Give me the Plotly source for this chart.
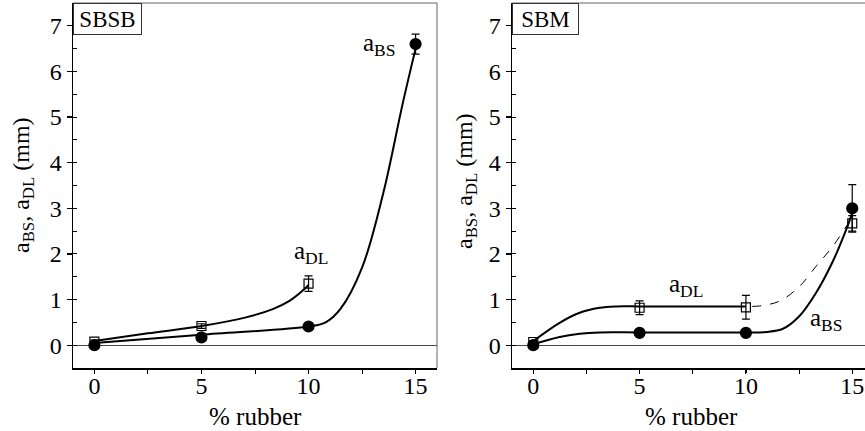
import plotly.graph_objects as go

FONT = "Liberation Serif, Times New Roman, Times, DejaVu Serif, serif"

# ---- measured points (x = % rubber, y = mm) ----
rubber = [0, 5, 10, 15]

# SBSB panel
sbsb_bs_y = [0.0, 0.17, 0.41, 6.6]
sbsb_bs_err = [0.0, 0.0, 0.0, 0.22]
sbsb_dl_x = [0, 5, 10]
sbsb_dl_y = [0.08, 0.42, 1.35]
sbsb_dl_err = [0.03, 0.05, 0.17]

# SBM panel
sbm_bs_y = [0.0, 0.27, 0.27, 3.0]
sbm_bs_err = [0.0, 0.0, 0.0, 0.52]
sbm_dl_y = [0.07, 0.82, 0.83, 2.67]
sbm_dl_err = [0.03, 0.15, 0.26, 0.17]

# ---- fitted curves ----
sbsb_bs_fit_x = [0, 5, 10, 10.8, 11.5, 12.5, 13.5, 14.4, 15]
sbsb_bs_fit_y = [0.05, 0.23, 0.41, 0.5, 0.8, 1.7, 3.35, 5.3, 6.5]
sbsb_dl_fit_x = [0, 2.5, 5, 7.08, 8.33, 9.11, 9.81, 10]
sbsb_dl_fit_y = [0.09, 0.26, 0.42, 0.61, 0.79, 0.97, 1.23, 1.32]

sbm_dl_fit_x = [0, 1.24, 2.18, 3.12, 3.9, 5, 7.5, 10]
sbm_dl_fit_y = [0.09, 0.49, 0.71, 0.82, 0.85, 0.85, 0.85, 0.85]
sbm_dl_ext_x = [10.3, 10.64, 11.58, 12.52, 13.3, 14.09, 14.79, 15]
sbm_dl_ext_y = [0.85, 0.86, 0.965, 1.29, 1.73, 2.17, 2.65, 2.78]
sbm_bs_fit_x = [0, 1.24, 2.18, 3.12, 5, 7.5, 10, 10.95, 11.74, 12.52, 13.3, 14.09, 14.72, 15]
sbm_bs_fit_y = [0.02, 0.18, 0.25, 0.28, 0.28, 0.28, 0.28, 0.29, 0.36, 0.64, 1.15, 1.84, 2.54, 2.9]

x_ticks = [0, 5, 10, 15]
y_ticks = [0, 1, 2, 3, 4, 5, 6, 7]

W, H = 865, 431


def px(x):
    return x / W


def py(y):
    return 1 - y / H


fig = go.Figure()


def curve(x, y, xa, ya, dash="solid", width=2):
    fig.add_trace(go.Scatter(x=x, y=y, xaxis=xa, yaxis=ya, mode="lines",
                             line=dict(color="black", width=width, dash=dash,
                                       shape="spline", smoothing=1.0),
                             hoverinfo="skip", showlegend=False))


def points(x, y, err, xa, ya, symbol, size):
    fig.add_trace(go.Scatter(x=x, y=y, xaxis=xa, yaxis=ya, mode="markers",
                             marker=dict(symbol=symbol, size=size, color="black",
                                         line=dict(color="black", width=1.2)),
                             error_y=dict(type="data", array=err, visible=True,
                                          color="black", thickness=1.2, width=4),
                             cliponaxis=False, showlegend=False))


# SBSB
curve(sbsb_bs_fit_x, sbsb_bs_fit_y, "x", "y")
curve(sbsb_dl_fit_x, sbsb_dl_fit_y, "x", "y")
points(sbsb_dl_x, sbsb_dl_y, sbsb_dl_err, "x", "y", "square-open", 9)
points(rubber, sbsb_bs_y, sbsb_bs_err, "x", "y", "circle", 11)

# SBM
curve(sbm_bs_fit_x, sbm_bs_fit_y, "x2", "y2")
curve(sbm_dl_fit_x, sbm_dl_fit_y, "x2", "y2")
curve(sbm_dl_ext_x, sbm_dl_ext_y, "x2", "y2", dash="dash", width=1)
points(rubber, sbm_dl_y, sbm_dl_err, "x2", "y2", "square-open", 9)
points(rubber, sbm_bs_y, sbm_bs_err, "x2", "y2", "circle", 11)

tickfont = dict(family=FONT, size=24, color="black")
ydom = [py(368), py(3)]


def xaxis(domain, rng, anchor):
    return dict(domain=domain, range=rng, anchor=anchor, tickvals=x_ticks,
                ticks="outside", ticklen=3, tickwidth=1.2, tickcolor="black",
                ticklabelstandoff=-7,
                minor=dict(dtick=2.5, tick0=0, ticks="outside", ticklen=4,
                           tickcolor="black", tickwidth=1),
                showline=True, linecolor="black", linewidth=1.5,
                showgrid=False, zeroline=False, tickfont=tickfont)


def yaxis(anchor):
    return dict(domain=ydom, range=[-0.5, 7.5], anchor=anchor, tickvals=y_ticks,
                ticks="outside", ticklen=5, tickwidth=1.2, tickcolor="black",
                minor=dict(dtick=0.5, tick0=0, ticks="inside", ticklen=4,
                           tickcolor="black", tickwidth=1),
                showline=True, linecolor="black", linewidth=1.5,
                showgrid=False, zeroline=True, zerolinecolor="#444",
                zerolinewidth=1, tickfont=tickfont)


fig.update_layout(
    width=W, height=H,
    margin=dict(l=0, r=0, t=0, b=0),
    paper_bgcolor="white", plot_bgcolor="white",
    font=dict(family=FONT, size=24, color="black"),
    xaxis=xaxis([px(73), px(437)], [-1, 16], "y"),
    yaxis=yaxis("x"),
    xaxis2=xaxis([px(512), 1.0], [-1, 15.6], "y2"),
    yaxis2=yaxis("x2"),
)

# thin frame lines (top and right)
frame = dict(color="#666", width=1)
fig.add_shape(type="line", xref="x domain", yref="y domain", x0=0, x1=1, y0=1, y1=1, line=frame)
fig.add_shape(type="line", xref="x domain", yref="y domain", x0=1, x1=1, y0=0, y1=1, line=frame)
fig.add_shape(type="line", xref="x2 domain", yref="y2 domain", x0=0, x1=1, y0=1, y1=1, line=frame)

ann = []
# panel labels
for xr, yr, txt, w in [("x domain", "y domain", "SBSB", 63), ("x2 domain", "y2 domain", "SBM", 61)]:
    ann.append(dict(xref=xr, yref=yr, x=0, y=1, xanchor="left", yanchor="top",
                    text=txt, showarrow=False, width=w, height=26, borderpad=2,
                    bordercolor="#333", borderwidth=1, bgcolor="white",
                    font=dict(family=FONT, size=23, color="black")))

lab = dict(family=FONT, size=25, color="black")
ann += [
    dict(xref="x", yref="y", x=14.17, y=6.6, xanchor="right", yanchor="middle",
         text="a<sub>BS</sub>", showarrow=False, font=lab),
    dict(xref="x", yref="y", x=9.25, y=2.04, xanchor="left", yanchor="middle",
         text="a<sub>DL</sub>", showarrow=False, font=lab),
    dict(xref="x2", yref="y2", x=6.27, y=1.31, xanchor="left", yanchor="middle",
         text="a<sub>DL</sub>", showarrow=False, font=lab),
    dict(xref="x2", yref="y2", x=12.93, y=0.56, xanchor="left", yanchor="middle",
         text="a<sub>BS</sub>", showarrow=False, font=lab),
]

# axis titles
ytitle = "a<sub>BS</sub>, a<sub>DL</sub> (mm)"
for xc, yc in [(px(23), py(185)), (px(466), py(181))]:
    ann.append(dict(xref="paper", yref="paper", x=xc, y=yc,
                    xanchor="center", yanchor="middle", textangle=-90,
                    text=ytitle, showarrow=False,
                    font=dict(family=FONT, size=24, color="black")))
for xc in [px(255), px(691)]:
    ann.append(dict(xref="paper", yref="paper", x=xc, y=py(416),
                    xanchor="center", yanchor="middle",
                    text="% rubber", showarrow=False,
                    font=dict(family=FONT, size=25, color="black")))

fig.update_layout(annotations=ann)
fig.write_html(
    "out.html",
    config={"displayModeBar": False, "staticPlot": True},
    post_script=("document.documentElement.style.overflow='hidden';"
                 "document.body.style.margin='0px';"
                 "document.body.style.overflow='hidden';"),
)
